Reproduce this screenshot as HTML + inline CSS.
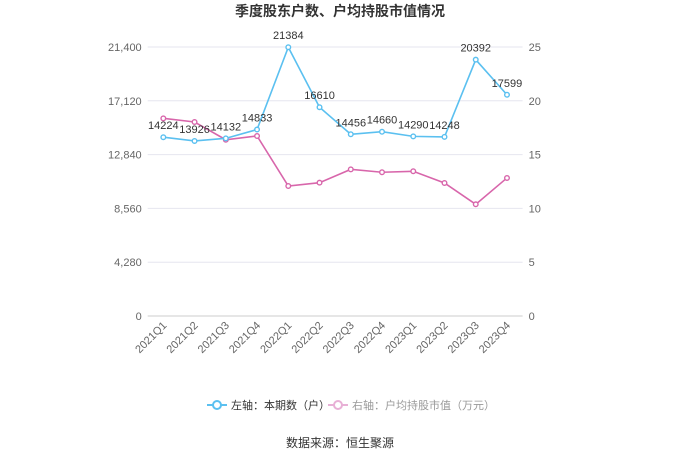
<!DOCTYPE html>
<html><head><meta charset="utf-8"><style>
body{margin:0;background:#fff;font-family:"Liberation Sans","Noto Sans CJK SC",sans-serif}
</style></head><body>
<svg id="c" width="680" height="460" xmlns="http://www.w3.org/2000/svg" font-family="Liberation Sans, Noto Sans CJK SC, sans-serif">
<text x="340" y="16" text-anchor="middle" font-size="14" font-weight="bold" fill="#333">季度股东户数、户均持股市值情况</text>
<g id="grid"></g><g id="axes"></g><g id="series"></g>
<g>
<line x1="207" y1="405" x2="227" y2="405" stroke="#5bc0f0" stroke-width="2"/><circle cx="217" cy="405" r="4" fill="#fff" stroke="#5bc0f0" stroke-width="2"/>
<text x="231" y="409" font-size="11" fill="#333">左轴：本期数（户）</text>
<line x1="328" y1="405" x2="348" y2="405" stroke="#e8b0d6" stroke-width="2"/><circle cx="338" cy="405" r="4" fill="#fff" stroke="#e8b0d6" stroke-width="2"/>
<text x="352" y="409" font-size="11" fill="#999">右轴：户均持股市值（万元）</text>
</g>
<text x="340" y="447" text-anchor="middle" font-size="12" fill="#333">数据来源：恒生聚源</text>
</svg>
<script>
const categories=["2021Q1","2021Q2","2021Q3","2021Q4","2022Q1","2022Q2","2022Q3","2022Q4","2023Q1","2023Q2","2023Q3","2023Q4"];
const holders=[14224,13926,14132,14833,21384,16610,14456,14660,14290,14248,20392,17599];
const avgValue=[18.37,18.03,16.38,16.73,12.08,12.39,13.63,13.36,13.45,12.36,10.38,12.83];
const leftTicks=[0,4280,8560,12840,17120,21400];
const leftTickLabels=["0","4,280","8,560","12,840","17,120","21,400"];
const rightTicks=[0,5,10,15,20,25];
const ns="http://www.w3.org/2000/svg";
const x0=147.7,x1=522.6,yb=316,yt=47;
const bw=(x1-x0)/categories.length;
const xs=i=>x0+bw*(i+0.5);
const yL=v=>yb-(v/21400)*(yb-yt);
const yR=v=>yb-(v/25)*(yb-yt);
function mk(t,a,p){const e=document.createElementNS(ns,t);for(const k in a)e.setAttribute(k,a[k]);p.appendChild(e);return e;}
const grid=document.getElementById('grid'),axes=document.getElementById('axes'),ser=document.getElementById('series');
leftTicks.forEach((v,i)=>{
 const g=mk('line',{x1:x0,x2:x1,y1:yL(v),y2:yL(v),stroke:i==0?'#ccc':'#e6e6ef'},grid);
 
 
 const t=mk('text',{x:x0-6,y:yL(v)+4,'text-anchor':'end','font-size':11,fill:'#666'},axes);t.textContent=leftTickLabels[i];
 
 
});
rightTicks.forEach(v=>{
 const t=mk('text',{x:x1+6,y:yR(v)+4,'font-size':11,fill:'#666'},axes);t.textContent=v;
 
 
});
categories.forEach((c,i)=>{
 const t=mk('text',{x:0,y:0,'text-anchor':'end','font-size':11,fill:'#666',transform:`translate(${xs(i)+4},${yb+10}) rotate(-45)`},axes);t.textContent=c;
 
 
});
function line(vals,yf,col,name,labels){
 const p=mk('polyline',{points:vals.map((v,i)=>xs(i)+','+yf(v)).join(' '),fill:'none',stroke:col,'stroke-width':1.6},ser);
 
 
 vals.forEach((v,i)=>{
  const c=mk('circle',{cx:xs(i),cy:yf(v),r:2.3,fill:'#fff',stroke:col,'stroke-width':1.4},ser);
  
  
  if(labels){const t=mk('text',{x:xs(i),y:yf(v)-8,'text-anchor':'middle','font-size':11,fill:'#333'},ser);t.textContent=v;
  
  }
 });
}
line(avgValue,yR,'#d866ab','avg-value',false);
line(holders,yL,'#5bc0f0','holders',true);
</script>
</body></html>
